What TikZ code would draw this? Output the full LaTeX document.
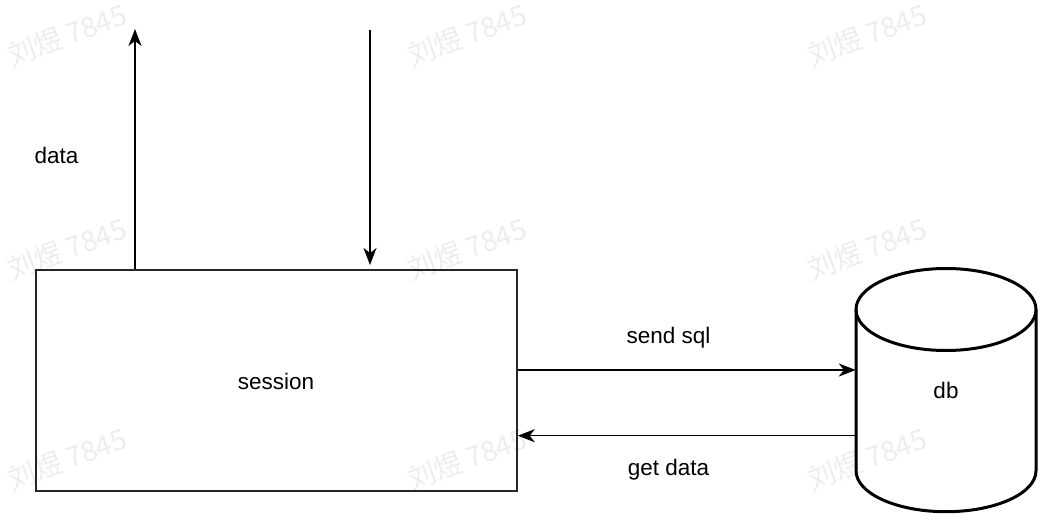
\documentclass[tikz,border=0pt]{standalone}
\usepackage{fontspec}
\setmainfont{Liberation Sans}
\newfontfamily\cjk{Noto Sans CJK SC}
\usetikzlibrary{arrows.meta}
\begin{document}
\begin{tikzpicture}[x=1pt,y=1pt,
  lbl/.style={inner sep=0pt,font=\fontsize{22.5}{27}\selectfont},
  wm/.style={inner sep=0pt,text=black,text opacity=0.07,rotate=20,font=\cjk\fontsize{28}{31}\selectfont},
  conn/.style={line width=1.5pt,-{Stealth[length=17pt,width=13pt,inset=5pt]}},
  boxst/.style={draw=black!85,line width=1.5pt,inner sep=0pt}]
\useasboundingbox (0,0) rectangle (1055,-529);
\fill[white] (0,0) rectangle (1055,-529);
% session box
\node[boxst,minimum width=481pt,minimum height=221pt] (session) at (276.5,-380.5) {};
\node[lbl] (sessiontxt) at (276,-381) {session};
% db cylinder
\node[inner sep=0pt,minimum width=180pt,minimum height=244pt] (db) at (946,-390) {};
\draw[line width=3pt,fill=white] (856,-309.5) -- (856,-470.7) arc (180:360:90 and 41) -- (1036,-309.5) arc (0:180:90 and 41) -- cycle;
\draw[line width=3pt] (856,-309.5) arc (180:360:90 and 41);
\node[lbl] (dbtxt) at (946,-390) {db};
% outside coordinates
\coordinate (outtop) at (135,-29);
\coordinate (intop) at (370,-30);
\coordinate (intip) at (370,-265);
% connectors
\draw[conn] (session.north -| outtop) -- (outtop);
\draw[conn] (intop) -- (intip);
\draw[conn] (session.east |- 0,-370) -- (db.west |- 0,-370);
\draw[conn] (db.west |- 0,-435.7) -- (session.east |- 0,-435.7);
% labels
\node[lbl] (datatxt) at (56.5,-155) {data};
\node[lbl] (sendtxt) at (668.5,-338) {send sql};
\node[lbl] (gettxt) at (668.5,-470) {get data};
% watermarks
\foreach \wx in {67,467,867}{
  \foreach \wy in {35,249,459}{
    \node[wm] at (\wx,-\wy) {刘煜 7845};
  }
}
\end{tikzpicture}
\end{document}
